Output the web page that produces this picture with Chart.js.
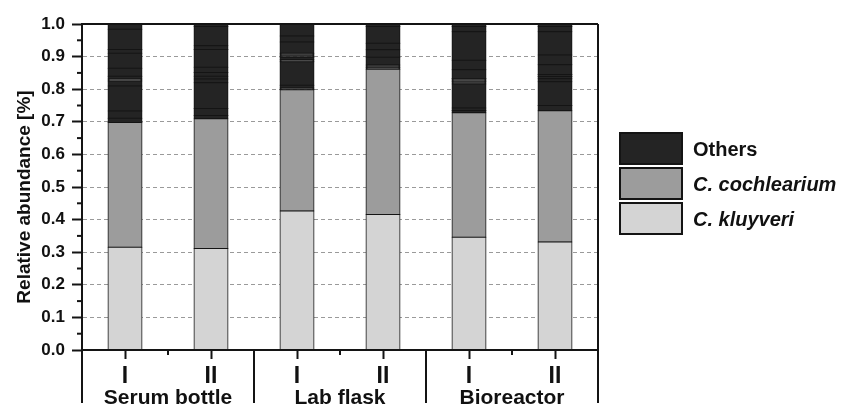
<!DOCTYPE html>
<html><head><meta charset="utf-8">
<script src="https://cdn.jsdelivr.net/npm/chart.js@4/dist/chart.umd.min.js"></script>
<style>html,body{margin:0;padding:0;background:#fff}</style>
</head><body>
<canvas id="c" width="846" height="407" style="display:block;width:846px;height:407px"></canvas>
<script>
// ---- data ----
const categories = ['I', 'II', 'I', 'II', 'I', 'II'];
const groups = ['Serum bottle', 'Lab flask', 'Bioreactor'];
const yTicks = [0, 0.1, 0.2, 0.3, 0.4, 0.5, 0.6, 0.7, 0.8, 0.9, 1.0];
const yTitle = 'Relative abundance [%]';
const kluyveri = [0.315, 0.311, 0.426, 0.416, 0.346, 0.331];
const cochlearium = [0.383, 0.398, 0.372, 0.445, 0.382, 0.403];
// "Others" sub-taxa, bottom to top, for each bar
const othersSerumI  = [0.013, 0.022, 0.077, 0.015, 0.006, 0.009, 0.024, 0.046, 0.012, 0.062, 0.016];
const othersSerumII = [0.010, 0.022, 0.079, 0.011, 0.009, 0.011, 0.016, 0.055, 0.011, 0.059, 0.008];
const othersLabI    = [0.006, 0.008, 0.072, 0.006, 0.008, 0.007, 0.005, 0.035, 0.018, 0.037];
const othersLabII   = [0.006, 0.007, 0.024, 0.023, 0.020, 0.051, 0.008];
const othersBioI    = [0.007, 0.007, 0.074, 0.007, 0.005, 0.005, 0.027, 0.029, 0.087, 0.016, 0.008];
const othersBioII   = [0.016, 0.073, 0.009, 0.007, 0.006, 0.030, 0.030, 0.071, 0.016, 0.008];

// ---- styles ----
const C_KLUY = '#d4d4d4', C_COCH = '#9c9c9c', C_OTH = '#242424', C_LINE = '#141414';
const FONT = '"Liberation Sans", Arial, Helvetica, sans-serif';
const legendItems = [
  { text: 'Others', color: C_OTH, italic: false },
  { text: 'C. cochlearium', color: C_COCH, italic: true },
  { text: 'C. kluyveri', color: C_KLUY, italic: true }
];

const barCommon = { borderColor: C_LINE, borderWidth: 1, borderSkipped: false, inflateAmount: 0.5, barPercentage: 0.395, categoryPercentage: 1 };
const othersByBar = [othersSerumI, othersSerumII, othersLabI, othersLabII, othersBioI, othersBioII];
const nOthers = Math.max(...othersByBar.map(a => a.length));
const datasets = [
  Object.assign({ label: 'C. kluyveri', data: kluyveri, backgroundColor: C_KLUY }, barCommon),
  Object.assign({ label: 'C. cochlearium', data: cochlearium, backgroundColor: C_COCH }, barCommon)
];
for (let k = 0; k < nOthers; k++) {
  datasets.push(Object.assign({ label: 'Others', data: othersByBar.map(a => (a[k] !== undefined ? a[k] : 0)), backgroundColor: C_OTH }, barCommon));
}

function line(ctx, x1, y1, x2, y2) { ctx.beginPath(); ctx.moveTo(x1, y1); ctx.lineTo(x2, y2); ctx.stroke(); }

const decor = {
  id: 'decor',
  afterDraw(chart) {
    const { ctx, chartArea: a, scales: { x, y } } = chart;
    ctx.save();
    ctx.strokeStyle = C_LINE; ctx.lineWidth = 2;
    const ext = a.bottom + 53;
    line(ctx, a.left, a.top, a.right, a.top);
    line(ctx, a.right, a.top, a.right, ext);
    line(ctx, a.left, a.bottom, a.left, ext);
    for (let g = 0; g < groups.length; g++) {
      const xm = (x.getPixelForTick(2 * g) + x.getPixelForTick(2 * g + 1)) / 2;
      line(ctx, xm, a.bottom, xm, a.bottom + 5);
      if (g > 0) {
        const xs = (x.getPixelForTick(2 * g - 1) + x.getPixelForTick(2 * g)) / 2;
        line(ctx, xs, a.bottom, xs, ext);
      }
      ctx.fillStyle = '#111';
      ctx.font = 'bold 21px ' + FONT;
      ctx.textAlign = 'center'; ctx.textBaseline = 'alphabetic';
      ctx.fillText(groups[g], xm, a.bottom + 54);
    }
    for (let i = 0; i < yTicks.length - 1; i++) {
      const py = y.getPixelForValue((yTicks[i] + yTicks[i + 1]) / 2);
      line(ctx, a.left - 5, py, a.left, py);
    }
    // y axis title
    ctx.save();
    ctx.translate(30, (a.top + a.bottom) / 2 + 10);
    ctx.rotate(-Math.PI / 2);
    ctx.fillStyle = '#111';
    ctx.font = 'bold 19px ' + FONT;
    ctx.textAlign = 'center'; ctx.textBaseline = 'alphabetic';
    ctx.fillText(yTitle, 0, 0);
    ctx.restore();
    // legend
    const lx = a.right + 22, bw = 62, bh = 31, gap = 4;
    let ly = a.top + 109;
    legendItems.forEach(it => {
      ctx.fillStyle = it.color;
      ctx.fillRect(lx, ly, bw, bh);
      ctx.lineWidth = 2; ctx.strokeStyle = C_LINE;
      ctx.strokeRect(lx, ly, bw, bh);
      ctx.fillStyle = '#111';
      ctx.font = (it.italic ? 'italic ' : '') + 'bold 20px ' + FONT;
      ctx.textAlign = 'left'; ctx.textBaseline = 'alphabetic';
      ctx.fillText(it.text, lx + bw + 11, ly + bh / 2 + 7.5);
      ly += bh + gap;
    });
    ctx.restore();
  }
};

new Chart(document.getElementById('c'), {
  type: 'bar',
  data: { labels: categories, datasets },
  options: {
    responsive: false, animation: false, devicePixelRatio: 1,
    layout: { padding: { top: 24, left: 8, right: 248, bottom: 0 } },
    plugins: { legend: { display: false }, tooltip: { enabled: false } },
    scales: {
      x: {
        stacked: true,
        afterFit: s => { s.height = 57; },
        grid: { offset: false, drawOnChartArea: false, drawTicks: true, tickLength: 9, tickWidth: 2, tickColor: C_LINE },
        border: { display: true, color: C_LINE, width: 2 },
        ticks: { color: '#111', padding: 4, font: { family: FONT, size: 23, weight: 'bold' }, maxRotation: 0, autoSkip: false }
      },
      y: {
        stacked: true, min: 0, max: 1,
        afterFit: s => { s.width = 74; },
        afterBuildTicks: s => { s.ticks = yTicks.map(v => ({ value: v })); },
        grid: {
          color: c => (c.tick && (c.tick.value < 0.001 || c.tick.value > 0.999)) ? 'rgba(0,0,0,0)' : '#9a9a9a',
          lineWidth: 1, tickLength: 10, tickWidth: 2, tickColor: C_LINE, drawTicks: true
        },
        border: { display: true, color: C_LINE, width: 2, dash: [4, 3] },
        ticks: { color: '#111', padding: 7, font: { family: FONT, size: 17, weight: 'bold' }, callback: v => Number(v).toFixed(1) },
        title: { display: false }
      }
    }
  },
  plugins: [decor]
});
</script>
</body></html>
